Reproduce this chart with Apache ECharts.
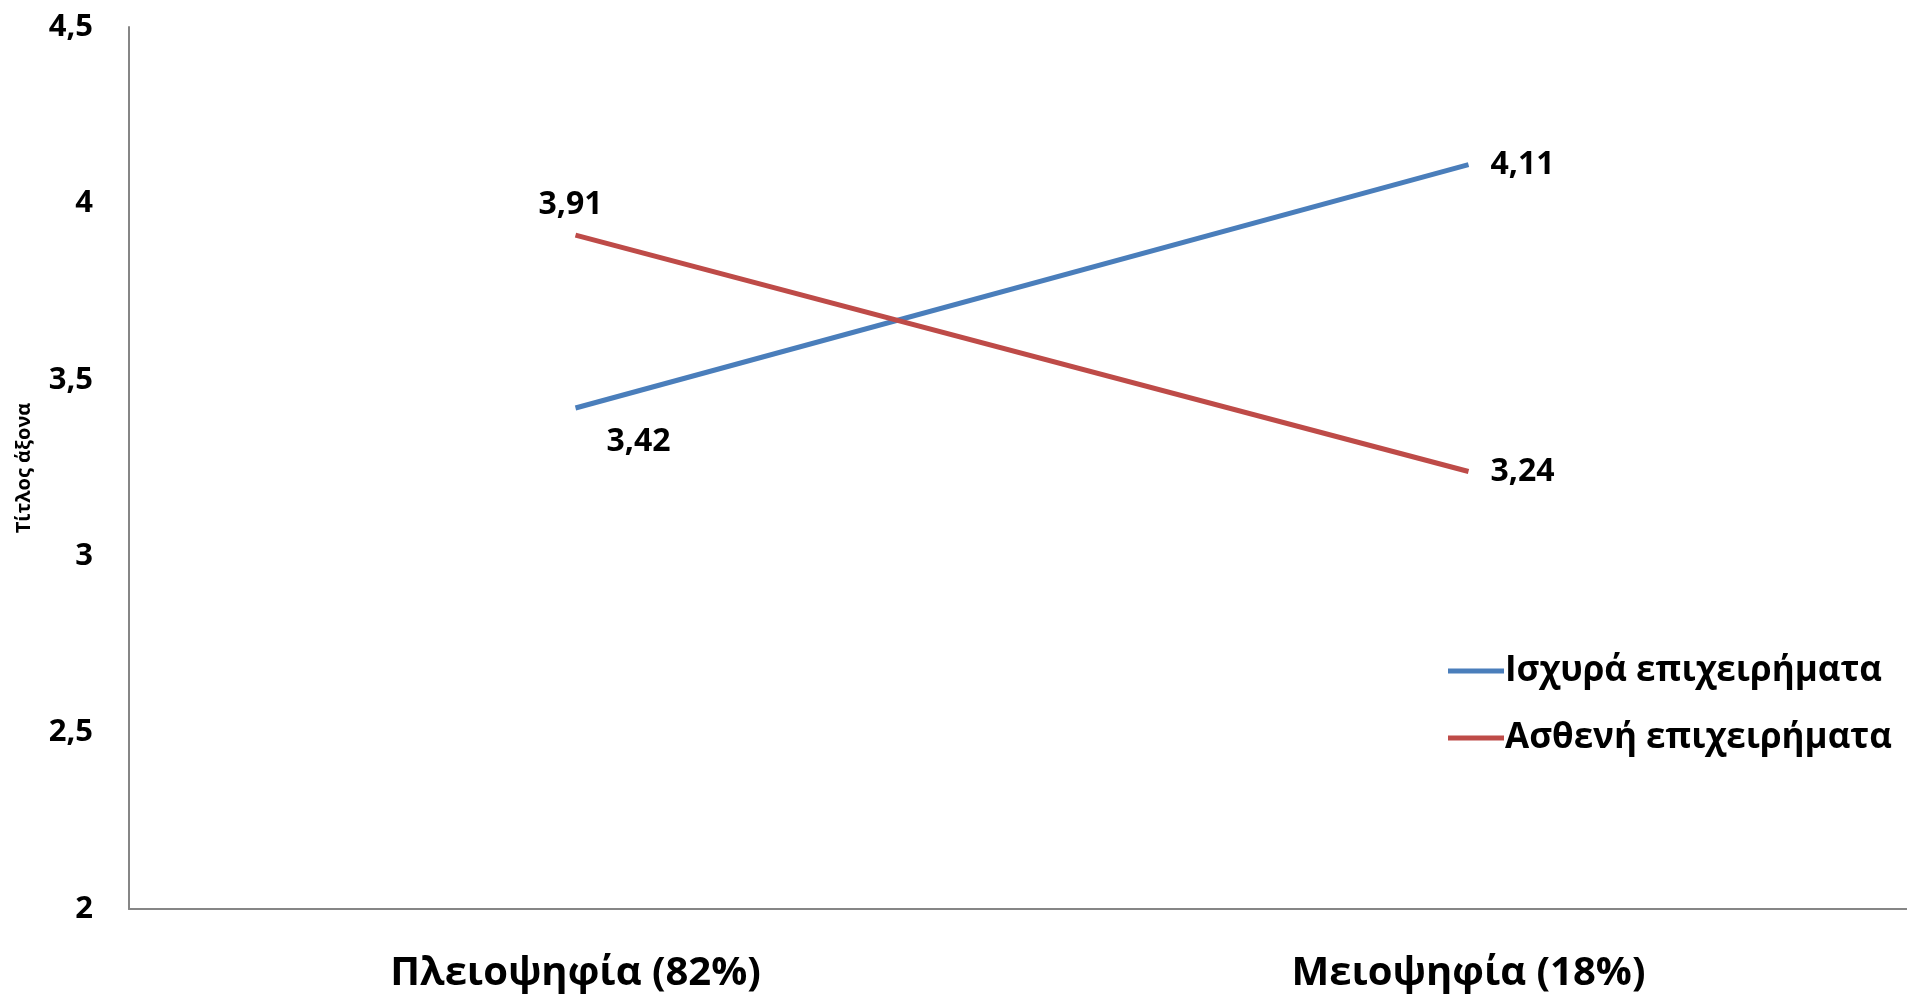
<!DOCTYPE html>
<html><head><meta charset="utf-8">
<script src="https://cdn.jsdelivr.net/npm/echarts@6/dist/echarts.min.js"></script>
<style>html,body{margin:0;padding:0;background:#fff}#c{width:1907px;height:995px}</style>
</head><body><div id="c"></div>
<script>
const categories = ['Πλειοψηφία (82%)', 'Μειοψηφία (18%)'];
const strongArgs = [3.42, 4.11];
const weakArgs = [3.91, 3.24];
const seriesNames = ['Ισχυρά επιχειρήματα', 'Ασθενή επιχειρήματα'];
const yTicks = [2, 2.5, 3, 3.5, 4, 4.5];
const yTitle = 'Τίτλος άξονα';

const FONT = '"Open Sans", sans-serif';
const fmt = v => String(v).replace('.', ',');
const chart = echarts.init(document.getElementById('c'), null, {renderer: 'canvas'});
chart.setOption({
  animation: false,
  textStyle: {fontFamily: FONT},
  grid: {left: 129, right: -8, top: 27, bottom: 86, containLabel: false, outerBoundsMode: 'none'},
  legend: {
    orient: 'vertical', left: 1443, top: 646, itemGap: 27,
    itemWidth: 56, itemHeight: 5, icon: 'rect',
    textStyle: {fontFamily: FONT, fontWeight: 'bold', fontSize: 35, lineHeight: 40, color: '#000', padding: [0, 0, 0, -4]},
    data: seriesNames
  },
  xAxis: {
    type: 'category', data: categories, boundaryGap: true,
    axisLine: {lineStyle: {color: '#868686', width: 2}},
    axisTick: {show: false},
    axisLabel: {fontFamily: FONT, fontWeight: 'bold', fontSize: 40, color: '#000', margin: 45}
  },
  yAxis: {
    type: 'value', min: yTicks[0], max: yTicks[yTicks.length - 1], interval: 0.5,
    name: yTitle, nameLocation: 'middle', nameGap: 95, nameRotate: 90,
    nameTextStyle: {fontFamily: FONT, fontWeight: 'bold', fontSize: 20, color: '#000'},
    axisLine: {show: true, lineStyle: {color: '#868686', width: 2}},
    axisTick: {show: false},
    splitLine: {show: false},
    axisLabel: {fontFamily: FONT, fontWeight: 'bold', fontSize: 31, color: '#000', margin: 36, formatter: fmt}
  },
  series: [
    {
      name: seriesNames[0], type: 'line', data: strongArgs, symbol: 'none',
      lineStyle: {color: '#4A7EBB', width: 5}, itemStyle: {color: '#4A7EBB'},
      markPoint: {symbol: 'circle', symbolSize: 0,
        label: {show: true, fontFamily: FONT, fontWeight: 'bold', fontSize: 32, color: '#000', formatter: p => fmt(p.value)},
        data: [
          {coord: [0, strongArgs[0]], value: strongArgs[0], label: {offset: [63, 34]}},
          {coord: [1, strongArgs[1]], value: strongArgs[1], label: {position: 'right', distance: 22}}
        ]}
    },
    {
      name: seriesNames[1], type: 'line', data: weakArgs, symbol: 'none',
      lineStyle: {color: '#BE4B48', width: 5}, itemStyle: {color: '#BE4B48'},
      markPoint: {symbol: 'circle', symbolSize: 0,
        label: {show: true, fontFamily: FONT, fontWeight: 'bold', fontSize: 32, color: '#000', formatter: p => fmt(p.value)},
        data: [
          {coord: [0, weakArgs[0]], value: weakArgs[0], label: {offset: [-5, -30]}},
          {coord: [1, weakArgs[1]], value: weakArgs[1], label: {position: 'right', distance: 22}}
        ]}
    }
  ]
});
</script></body></html>
